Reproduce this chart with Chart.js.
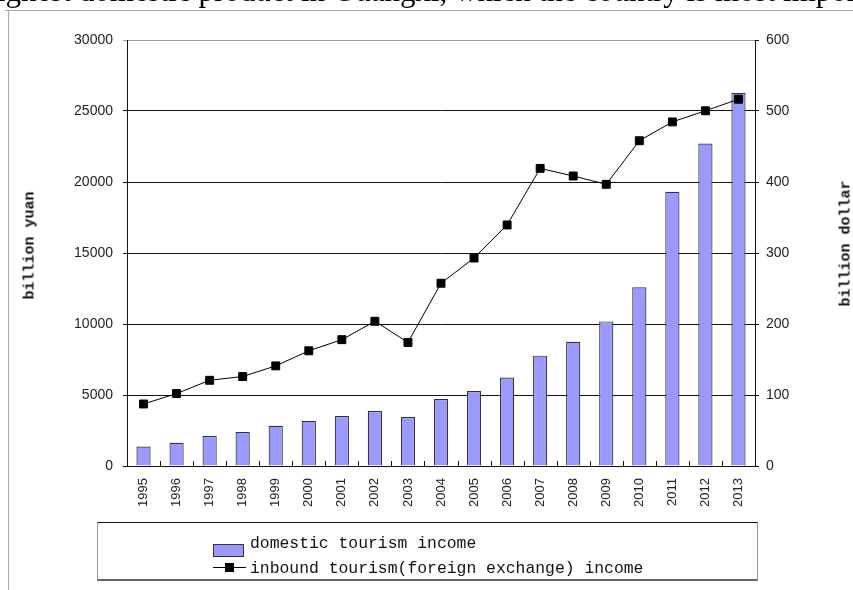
<!DOCTYPE html>
<html>
<head>
<meta charset="utf-8">
<script src="https://cdn.jsdelivr.net/npm/chart.js@4.4.1/dist/chart.umd.min.js"></script>
<style>
  html, body { margin: 0; padding: 0; background: #fff; }
  #wrap { position: relative; width: 853px; height: 590px; overflow: hidden; background: #fff; }
  #chart { position: absolute; left: 0; top: 0; }
  .frame-top { position: absolute; left: 5px; right: 0; top: 10px; border-top: 1px solid #a8a8a8; }
  .frame-left { position: absolute; left: 8px; top: 10px; bottom: 0; border-left: 1px solid #a8a8a8; }
  .caption { position: absolute; left: -3px; top: -24px; white-space: nowrap; line-height: 30px;
             font-family: "Liberation Serif", "Times New Roman", serif; font-size: 31px; color: #000; }
  .axis-title { position: absolute; white-space: nowrap; font-family: "Liberation Mono", "DejaVu Sans Mono", monospace;
                font-weight: bold; font-size: 15px; color: #111; transform-origin: center center; }
  .legend-box { position: absolute; left: 97px; top: 522px; width: 659px; height: 56px;
                border-top: 1px solid #111; border-left: 1px solid #999; border-right: 1px solid #999;
                border-bottom: 2px solid #666; }
  .legend-text { position: absolute; left: 250px; white-space: nowrap;
                 font-family: "Liberation Mono", "DejaVu Sans Mono", monospace; font-size: 16.4px; color: #111; }
  .swatch { position: absolute; left: 213px; top: 544px; width: 29px; height: 11px;
            background: #9999ff; border: 1px solid #333; }
  .lg-line { position: absolute; left: 213px; top: 567px; width: 33px; border-top: 1px solid #000; }
  .lg-mark { position: absolute; left: 225px; top: 563px; width: 9px; height: 9px; background: #000; }
</style>
</head>
<body>
<div id="wrap">
  <canvas id="chart" width="853" height="590"></canvas>
  <div class="caption">ighest domestic product in Guangxi, which the country is most important</div>
  <div class="frame-top"></div>
  <div class="frame-left"></div>
  <div class="axis-title" id="titleLeft">billion yuan</div>
  <div class="axis-title" id="titleRight">billion dollar</div>
  <div class="legend-box"></div>
  <div class="swatch"></div>
  <div class="legend-text" style="top:534px">domestic tourism income</div>
  <div class="lg-line"></div>
  <div class="lg-mark"></div>
  <div class="legend-text" style="top:559px">inbound tourism(foreign exchange) income</div>
</div>
<script>
// Years on the category axis
const years = ['1995', '1996', '1997', '1998', '1999', '2000', '2001', '2002', '2003', '2004',
               '2005', '2006', '2007', '2008', '2009', '2010', '2011', '2012', '2013'];

// Domestic tourism income, billion yuan (left axis)
const domesticIncome = [1375.7, 1638.4, 2112.7, 2391.2, 2831.9, 3175.5, 3522.4, 3878.4, 3442.3, 4710.7,
                        5285.9, 6229.7, 7770.6, 8749.3, 10183.7, 12579.8, 19305.4, 22706.2, 26276.1];

// Inbound tourism foreign exchange income, billion dollar (right axis)
const inboundIncome = [87.33, 102.00, 120.74, 126.02, 140.99, 162.24, 177.92, 203.85, 174.06, 257.39,
                       292.96, 339.49, 419.19, 408.43, 396.75, 458.14, 484.64, 500.28, 516.64];

// Axis ranges
const yuanTicks = [0, 5000, 10000, 15000, 20000, 25000, 30000];
const dollarTicks = [0, 100, 200, 300, 400, 500, 600];

// Axis titles placed beside the plot, rotated to read upwards
function placeTitle(id, cx, cy) {
  const el = document.getElementById(id);
  const w = el.offsetWidth, h = el.offsetHeight;
  el.style.left = (cx - w / 2) + 'px';
  el.style.top = (cy - h / 2) + 'px';
  el.style.transform = 'rotate(-90deg)';
}
placeTitle('titleLeft', 30, 245);
placeTitle('titleRight', 846, 243);

// Short tick marks between the year categories, pointing into the plot
const innerCategoryTicks = {
  id: 'innerCategoryTicks',
  afterDatasetsDraw(chart) {
    const x = chart.scales.x;
    const bottom = chart.chartArea.bottom;
    const ctx = chart.ctx;
    ctx.save();
    ctx.strokeStyle = '#111';
    ctx.lineWidth = 1;
    ctx.beginPath();
    for (let i = 1; i < years.length; i++) {
      const px = Math.round((x.getPixelForValue(i - 1) + x.getPixelForValue(i)) / 2) + 0.5;
      ctx.moveTo(px, bottom);
      ctx.lineTo(px, bottom - 5);
    }
    ctx.stroke();
    ctx.restore();
  }
};

new Chart(document.getElementById('chart'), {
  data: {
    labels: years,
    datasets: [
      {
        type: 'line',
        label: 'inbound tourism(foreign exchange) income',
        data: inboundIncome,
        yAxisID: 'yRight',
        borderColor: '#000',
        borderWidth: 1,
        pointStyle: 'rect',
        pointRadius: 5.6,
        pointBackgroundColor: '#000',
        pointBorderColor: '#000',
        pointBorderWidth: 1,
        tension: 0,
        order: 0
      },
      {
        type: 'bar',
        label: 'domestic tourism income',
        data: domesticIncome,
        yAxisID: 'yLeft',
        backgroundColor: '#9999ff',
        borderColor: '#333',
        borderWidth: 1.2,
        categoryPercentage: 1,
        barPercentage: 0.43,
        order: 1
      }
    ]
  },
  options: {
    responsive: false,
    animation: false,
    layout: { padding: { top: 40, left: 0, right: 0, bottom: 0 } },
    plugins: { legend: { display: false }, tooltip: { enabled: false } },
    scales: {
      x: {
        type: 'category',
        offset: true,
        grid: { display: false, drawTicks: false },
        border: { display: true, color: '#111', width: 1 },
        ticks: {
          minRotation: 90, maxRotation: 90, autoSkip: false, padding: 12,
          color: '#222', font: { family: 'Liberation Sans, Arial, sans-serif', size: 13 }
        },
        afterFit(scale) { scale.height = 124; }
      },
      yLeft: {
        type: 'linear',
        position: 'left',
        min: yuanTicks[0],
        max: yuanTicks[yuanTicks.length - 1],
        afterBuildTicks(scale) { scale.ticks = yuanTicks.map(v => ({ value: v })); },
        grid: {
          color: ctx => (ctx.tick && ctx.tick.value === 30000 ? '#9a9a9a' : '#111'),
          lineWidth: 1,
          tickLength: 4,
          drawTicks: true
        },
        border: { display: true, color: '#111', width: 1 },
        ticks: {
          padding: 10,
          color: '#222', font: { family: 'Liberation Sans, Arial, sans-serif', size: 14 },
          callback: v => String(v)
        },
        afterFit(scale) { scale.width = 127; }
      },
      yRight: {
        type: 'linear',
        position: 'right',
        min: dollarTicks[0],
        max: dollarTicks[dollarTicks.length - 1],
        afterBuildTicks(scale) { scale.ticks = dollarTicks.map(v => ({ value: v })); },
        grid: { drawOnChartArea: false, color: '#111', tickLength: 4 },
        border: { display: true, color: '#111', width: 1 },
        ticks: {
          padding: 7,
          color: '#222', font: { family: 'Liberation Sans, Arial, sans-serif', size: 14 },
          callback: v => String(v)
        },
        afterFit(scale) { scale.width = 98; }
      }
    }
  },
  plugins: [innerCategoryTicks]
});
</script>
</body>
</html>
